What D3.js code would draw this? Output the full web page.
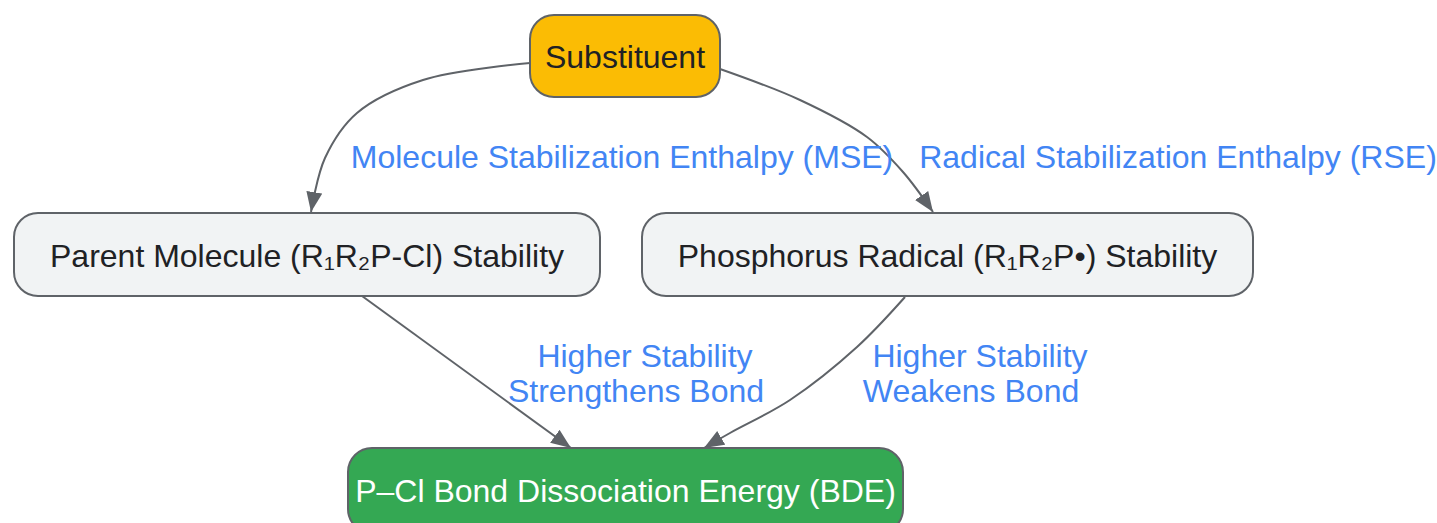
<!DOCTYPE html>
<html><head><meta charset="utf-8">
<script src="https://cdn.jsdelivr.net/npm/d3@7"></script>
<style>html,body{margin:0;padding:0;background:#fff;overflow:hidden}</style>
</head><body>
<svg id="c" width="1437" height="523"></svg>
<script>
// ---- data ----
const nodeIds = ["sub", "parent", "radical", "bde"];
const nodeLabels = ["Substituent", "Parent Molecule (R\u2081R\u2082P-Cl) Stability", "Phosphorus Radical (R\u2081R\u2082P\u2022) Stability", "P\u2013Cl Bond Dissociation Energy (BDE)"];
const nodeKinds = ["input", "neutral", "neutral", "output"];
const edgeSources = ["sub", "sub", "parent", "radical"];
const edgeTargets = ["parent", "radical", "bde", "bde"];
const edgeLabels = [
  ["Molecule Stabilization Enthalpy (MSE)"],
  ["Radical Stabilization Enthalpy (RSE)"],
  ["Higher Stability", "Strengthens Bond"],
  ["Higher Stability", "Weakens Bond"]
];

// ---- layout ----
const boxes = {
  sub:     {x0: 530, x1: 720, y0: 15, y1: 97},
  parent:  {x0: 14,  x1: 600, y0: 213, y1: 296},
  radical: {x0: 642, x1: 1253, y0: 213, y1: 296},
  bde:     {x0: 348, x1: 903, y0: 448, y1: 533}
};
const routes = [
  [[530,63],[423,80],[357,113],[325,158],[311,212]],
  [[720,69],[800,100],[867,137],[903,172],[933,212]],
  [[362,296],[571,448]],
  [[905,297],[857,347],[790,400],[730,433],[704,448]]
];
const labelPos = [
  {x: 622, y: 168, first: 0},
  {x: 1178, y: 168, first: 0},
  {x: 636, y: 367, first: 9},
  {x: 971, y: 367, first: 9}
];
const style = {
  input:   {fill: "#fbbc04", text: "#202124"},
  neutral: {fill: "#f1f3f4", text: "#202124"},
  output:  {fill: "#34a853", text: "#ffffff"}
};
const font = "'Liberation Sans', Arial, sans-serif";
const stroke = "#5f6368";

const svg = d3.select("#c");
svg.append("defs").append("marker")
  .attr("id", "arr").attr("markerUnits", "userSpaceOnUse")
  .attr("viewBox", "0 0 20 16").attr("refX", 20).attr("refY", 8)
  .attr("markerWidth", 20).attr("markerHeight", 16).attr("orient", "auto")
  .append("path").attr("d", "M0,0 L20,8 L0,16 Z").attr("fill", stroke);

const line = d3.line().curve(d3.curveCatmullRom.alpha(0.5));

// edges
svg.append("g").selectAll("path").data(routes).join("path")
  .attr("d", d => line(d))
  .attr("fill", "none").attr("stroke", stroke).attr("stroke-width", 2)
  .attr("marker-end", "url(#arr)");

// nodes
const nodes = nodeIds.map((id, i) => ({id, label: nodeLabels[i], kind: nodeKinds[i], b: boxes[id]}));
const ng = svg.append("g").selectAll("g").data(nodes).join("g");
ng.append("rect")
  .attr("x", d => d.b.x0).attr("y", d => d.b.y0)
  .attr("width", d => d.b.x1 - d.b.x0).attr("height", d => d.b.y1 - d.b.y0)
  .attr("rx", 24).attr("ry", 24)
  .attr("fill", d => style[d.kind].fill).attr("stroke", stroke).attr("stroke-width", 2);
ng.append("text")
  .attr("x", d => (d.b.x0 + d.b.x1) / 2)
  .attr("y", d => d.id === "bde" ? 502 : (d.b.y0 + d.b.y1) / 2 + 12)
  .attr("text-anchor", "middle")
  .attr("font-family", font).attr("font-size", 32)
  .attr("fill", d => style[d.kind].text)
  .text(d => d.label);

// edge labels
const lg = svg.append("g").selectAll("text").data(edgeLabels).join("text")
  .attr("text-anchor", "middle")
  .attr("font-family", font).attr("font-size", 32).attr("fill", "#4285f4");
lg.each(function(lines, i) {
  const p = labelPos[i];
  d3.select(this).selectAll("tspan").data(lines).join("tspan")
    .attr("x", (d, j) => p.x + (j === 0 ? p.first : 0))
    .attr("y", (d, j) => p.y + j * 35)
    .text(d => d);
});
</script>
</body></html>
